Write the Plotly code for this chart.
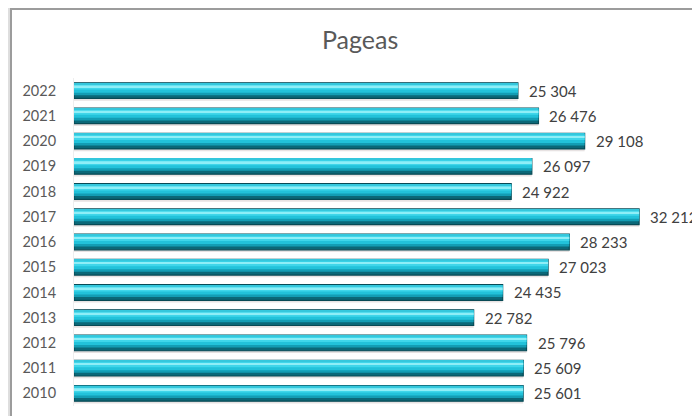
import plotly.graph_objects as go

years = ["2010", "2011", "2012", "2013", "2014", "2015", "2016",
         "2017", "2018", "2019", "2020", "2021", "2022"]
values = [25601, 25609, 25796, 22782, 24435, 27023, 28233,
          32212, 24922, 26097, 29108, 26476, 25304]
labels = [f"{v:,}".replace(",", " ") for v in values]
title_text = "Pageas"

FONT = "Lato, Open Sans, sans-serif"
fig = go.Figure()

def band(width, offset, color, line=None):
    fig.add_trace(go.Bar(y=years, x=values, orientation="h", width=width, offset=offset,
                         marker=dict(color=color, line=line or dict(width=0)),
                         hoverinfo="skip", showlegend=False))

band(0.64, -0.40, "rgba(170,150,150,0.28)")          # shadow
band(0.62, -0.31, "#0b6878", dict(width=1.2, color="#084a55"))  # dark base
band(0.48, -0.18, "#139db4")
band(0.36, -0.08, "#22c2da")
band(0.20, 0.04, "#3fd6ea")
band(0.07, 0.13, "#8eeef7")
band(0.05, 0.25, "#34c7dc")

for i, (v, t) in enumerate(zip(values, labels)):
    fig.add_annotation(x=v, y=i, xref="x", yref="y", text=t, xanchor="left",
                       yanchor="middle", xshift=9, showarrow=False,
                       font=dict(family=FONT, size=15, color="#404040"))

# frame with shadow
fig.add_shape(type="rect", xref="paper", yref="paper",
              x0=-0.1075, x1=1.2, y0=-0.2, y1=1.2165,
              line=dict(color="rgba(160,160,160,0.35)", width=6), layer="below")
fig.add_shape(type="rect", xref="paper", yref="paper",
              x0=-0.1026, x1=1.2, y0=-0.2, y1=1.2104,
              line=dict(color="#9c9c9c", width=2), layer="below")

fig.update_layout(
    width=700, height=416,
    margin=dict(l=66, r=20, t=70, b=18),
    paper_bgcolor="white", plot_bgcolor="white",
    barmode="overlay",
    title=dict(text=title_text, x=0.503, xanchor="center", y=0.923, yanchor="middle",
               font=dict(family=FONT, size=25, color="#595959")),
    xaxis=dict(range=[0, 35000], visible=False),
    yaxis=dict(type="category", categoryorder="array", categoryarray=years,
               range=[-0.5, 12.5], showline=True, linecolor="#eeeeee", linewidth=1,
               showgrid=False, ticks="", ticklabelstandoff=14,
               tickfont=dict(family=FONT, size=14.5, color="#595959")),
    showlegend=False,
)

fig.write_html("out.html")
